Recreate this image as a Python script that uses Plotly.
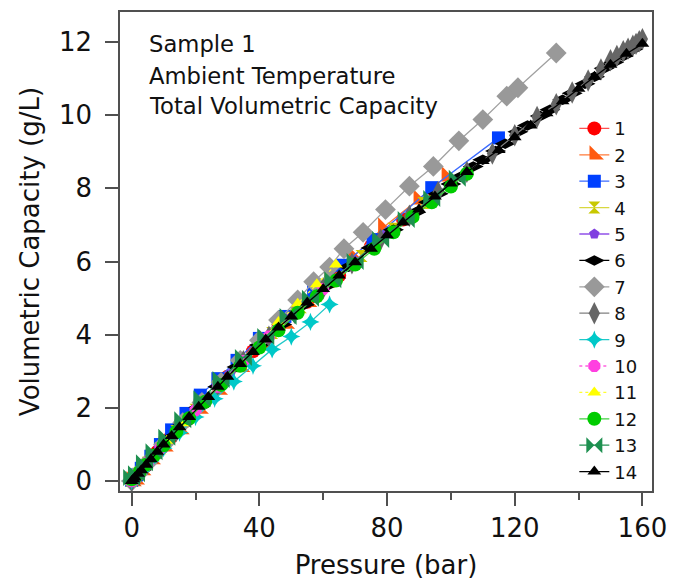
import plotly.graph_objects as go

# ---- data (pressure in bar, volumetric capacity in g/L) ----
p1 = [0.2, 1, 2.5, 5, 8, 12, 17, 23, 30, 38, 46, 55, 65, 75, 85, 95]
v1 = [0.02, 0.1, 0.25, 0.5, 0.8, 1.18, 1.65, 2.2, 2.85, 3.55, 4.2, 4.9, 5.62, 6.42, 7.15, 7.9]

p2 = [0, 1, 3, 6, 10, 15, 21, 27, 34, 41, 48, 55, 62, 69.4, 78.8, 89.9, 98.7]
v2 = [0, 0.05, 0.3, 0.6, 0.95, 1.42, 1.98, 2.5, 3.12, 3.72, 4.3, 4.9, 5.5, 6.15, 6.93, 7.7, 8.33]

p3 = [0, 1.5, 3, 6, 9, 12.5, 17, 21.5, 27, 33, 40, 48, 57, 66, 75.6, 94, 114.9]
v3 = [0.02, 0.17, 0.35, 0.68, 1.0, 1.4, 1.85, 2.35, 2.8, 3.3, 3.9, 4.5, 5.2, 5.9, 6.6, 8.02, 9.38]

p4 = [0, 2, 5, 9, 14, 20, 27, 35, 44, 53, 62, 72, 82, 91.4]
v4 = [0, 0.2, 0.5, 0.9, 1.37, 1.95, 2.6, 3.3, 4.05, 4.75, 5.45, 6.15, 6.9, 7.6]

p5 = [0, 2, 5, 10, 16, 23, 31, 40, 50, 60, 70, 80]
v5 = [0, 0.2, 0.5, 1.0, 1.55, 2.2, 2.95, 3.72, 4.52, 5.28, 6.02, 6.75]

p6 = [0, 1, 3, 5, 8, 12, 16, 21, 27, 33, 40, 47, 54, 61, 68, 75, 82, 89, 93, 96, 100, 103, 107,
      110, 114, 117, 121, 124, 128, 131, 135, 138, 142, 145, 148, 151, 154, 157]
v6 = [0, 0.1, 0.3, 0.5, 0.8, 1.18, 1.56, 2.02, 2.58, 3.12, 3.72, 4.28, 4.82, 5.33, 5.86, 6.37,
      6.87, 7.35, 7.62, 7.85, 8.12, 8.32, 8.6, 8.78, 9.02, 9.22, 9.55, 9.72, 9.98, 10.15, 10.42,
      10.6, 10.86, 11.05, 11.28, 11.45, 11.62, 11.8]

p7 = [0, 2, 5, 10, 16, 22, 28, 34, 40, 46, 52, 57, 62, 66.5, 72.5, 79.5, 87, 94.5, 102.5, 110,
      117.5, 121, 133]
v7 = [0, 0.2, 0.5, 1.0, 1.6, 2.15, 2.7, 3.3, 3.85, 4.4, 4.95, 5.45, 5.85, 6.35, 6.8, 7.42, 8.06,
      8.6, 9.3, 9.88, 10.52, 10.75, 11.7]

p8 = [0, 2, 5, 9, 14, 20, 27, 35, 43, 51, 60, 69, 78, 87, 96, 105, 113, 120, 127, 133, 138, 143,
      147, 150, 152, 154, 155.5, 157, 158, 159, 160]
v8 = [0, 0.2, 0.5, 0.9, 1.37, 1.94, 2.58, 3.28, 3.95, 4.6, 5.27, 5.95, 6.6, 7.25, 7.9, 8.45, 8.95,
      9.45, 9.95, 10.3, 10.62, 10.95, 11.25, 11.5, 11.62, 11.75, 11.82, 11.9, 11.95, 12.02, 12.08]

p9 = [0, 1, 3, 6, 10, 15, 20, 26, 32, 38, 44, 50, 56, 62]
v9 = [0, 0.08, 0.27, 0.55, 0.9, 1.32, 1.75, 2.25, 2.72, 3.15, 3.6, 3.95, 4.35, 4.83]

p10 = [0, 2, 5, 9, 14, 20, 27, 35, 43, 52, 60]
v10 = [0, 0.2, 0.5, 0.9, 1.36, 1.94, 2.58, 3.28, 3.95, 4.65, 5.25]

p11 = [0, 2, 4, 7, 11, 16, 22, 28, 34, 40, 46, 52, 58, 64]
v11 = [0, 0.2, 0.42, 0.72, 1.1, 1.58, 2.12, 2.66, 3.2, 3.75, 4.35, 4.85, 5.38, 5.92]

p12 = [0, 1, 2.5, 4.5, 7, 10, 14, 18, 23, 28, 34, 40, 46, 52, 58, 64, 70, 76, 82, 88, 94, 100, 105]
v12 = [0.05, 0.1, 0.25, 0.45, 0.7, 0.98, 1.35, 1.72, 2.17, 2.63, 3.15, 3.65, 4.12, 4.6, 5.05, 5.48,
       5.92, 6.35, 6.8, 7.22, 7.62, 8.05, 8.4]

p13 = [0, 1.5, 4, 7, 11, 16, 22, 28, 35, 42, 49, 56, 63, 70, 78, 86, 94, 102]
v13 = [0.1, 0.2, 0.5, 0.8, 1.2, 1.68, 2.25, 2.78, 3.38, 3.95, 4.5, 5.0, 5.5, 6.0, 6.6, 7.15, 7.72, 8.28]

p14 = [0, 0.5, 1, 2, 3, 4.5, 6, 8, 10, 12.5, 15, 18, 21, 24, 27, 30, 34, 38, 42, 46, 50, 55, 60,
       65, 70, 75, 80, 85, 90, 95, 100, 105, 110, 115, 120, 125, 130, 135, 140, 145, 150, 155, 160]
v14 = [0, 0.05, 0.1, 0.2, 0.3, 0.45, 0.6, 0.8, 1.0, 1.23, 1.47, 1.75, 2.03, 2.3, 2.58, 2.85, 3.2,
       3.53, 3.87, 4.2, 4.5, 4.88, 5.25, 5.62, 5.98, 6.35, 6.72, 7.07, 7.42, 7.78, 8.13, 8.45, 8.75,
       9.05, 9.4, 9.72, 10.05, 10.38, 10.72, 11.05, 11.38, 11.68, 11.95]

names = ["1", "2", "3", "4", "5", "6", "7", "8", "9", "10", "11", "12", "13", "14"]
xs = [p1, p2, p3, p4, p5, p6, p7, p8, p9, p10, p11, p12, p13, p14]
ys = [v1, v2, v3, v4, v5, v6, v7, v8, v9, v10, v11, v12, v13, v14]

x_ticks = [0, 40, 80, 120, 160]
y_ticks = [0, 2, 4, 6, 8, 10, 12]

# ---- styles ----
styles = [
    dict(lc="#FF5050", mc="#FF0000", sym="circle", size=14, dash="solid"),
    dict(lc="#FF7A3A", mc="#FF5A10", sym="triangle-sw", size=17, dash="solid"),
    dict(lc="#3A6AFF", mc="#0040FF", sym="square", size=13, dash="solid"),
    dict(lc="#D8D840", mc="#C8C800", sym="hourglass", size=12, dash="solid"),
    dict(lc="#9050E8", mc="#8040E0", sym="pentagon", size=11, dash="solid"),
    dict(lc="#000000", mc="#000000", sym="diamond-wide", size=15, dash="solid"),
    dict(lc="#A0A0A0", mc="#999999", sym="diamond", size=16, dash="solid"),
    dict(lc="#808080", mc="#666666", sym="diamond-tall", size=16, dash="solid"),
    dict(lc="#20C8C8", mc="#00C8C8", sym="star-diamond", size=13, dash="solid"),
    dict(lc="#FF60E0", mc="#FF40E0", sym="octagon", size=13, dash="dot"),
    dict(lc="#FFFF30", mc="#FFFF00", sym="triangle-up", size=12, dash="dot"),
    dict(lc="#40D040", mc="#00CC00", sym="circle", size=14, dash="solid"),
    dict(lc="#209050", mc="#1E9050", sym="bowtie", size=17, dash="solid"),
    dict(lc="#000000", mc="#000000", sym="triangle-up", size=12, dash="solid"),
]

fig = go.Figure()
for name, x, y, st in zip(names, xs, ys, styles):
    fig.add_trace(go.Scatter(
        x=x, y=y, mode="lines+markers", name=name,
        line=dict(color=st["lc"], width=1.3, dash=st["dash"]),
        marker=dict(symbol=st["sym"], size=st["size"], color=st["mc"], line=dict(width=0)),
    ))

FONT = "DejaVu Sans"
AX = "#505050"

# the page body adds an 8 px offset, so the figure is 8 px smaller than the window
fig.update_layout(
    width=675, height=573,
    margin=dict(l=112, r=31, t=4, b=89.5),
    paper_bgcolor="white", plot_bgcolor="white",
    font=dict(family=FONT, color="#111111"),
    showlegend=True,
    legend=dict(x=0.854, y=0.795, xanchor="left", yanchor="top",
                font=dict(size=18, family=FONT, color="#111111"),
                bgcolor="rgba(255,255,255,0)", tracegroupgap=0),
    xaxis=dict(range=[-3.66, 163], tickvals=x_ticks, showgrid=False, zeroline=False,
               showline=True, mirror=True, linecolor=AX, linewidth=1.5, automargin=False,
               ticks="outside", ticklen=13, tickwidth=1.5, tickcolor=AX,
               minor=dict(dtick=20, tick0=0, ticks="outside", ticklen=7, tickwidth=1.5,
                          tickcolor=AX, showgrid=False),
               tickfont=dict(size=26, family=FONT),
               title=dict(text="Pressure (bar)", font=dict(size=26, family=FONT), standoff=14)),
    yaxis=dict(range=[-0.27, 12.82], tickvals=y_ticks, showgrid=False, zeroline=False,
               showline=True, mirror=True, linecolor=AX, linewidth=1.5, automargin=False,
               ticks="outside", ticklen=13, tickwidth=1.5, tickcolor=AX,
               tickfont=dict(size=26, family=FONT), ticklabelstandoff=8,
               title=dict(text="Volumetric Capacity (g/L)", font=dict(size=26, family=FONT), standoff=12)),
)

for txt, yy in [("Sample 1", 0.933), ("Ambient Temperature", 0.8665), ("Total Volumetric Capacity", 0.804)]:
    fig.add_annotation(text=txt, x=0.05, y=yy, xref="paper", yref="paper",
                       xanchor="left", yanchor="middle", showarrow=False,
                       font=dict(size=22.7, family=FONT, color="#111111"))

fig.write_html("out.html")
